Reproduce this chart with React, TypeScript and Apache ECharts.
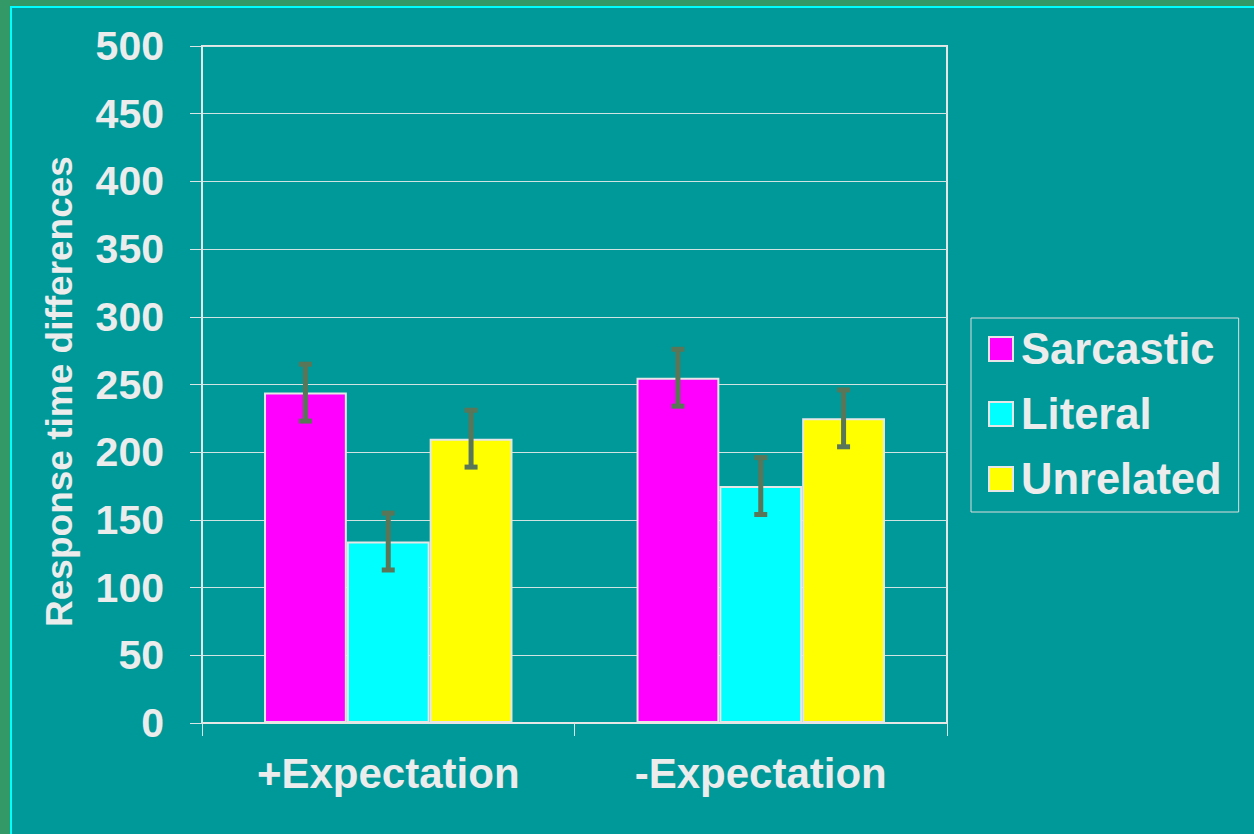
import React, { useEffect, useRef } from "react";
import * as echarts from "echarts";

const categories = ["+Expectation", "-Expectation"];
const seriesNames = ["Sarcastic", "Literal", "Unrelated"];
const sarcastic = [244, 255];
const literal = [134, 175];
const unrelated = [210, 225];
const errSarcastic = [21, 21];
const errLiteral = [21, 21];
const errUnrelated = [21, 21];
const yTicks = [0, 50, 100, 150, 200, 250, 300, 350, 400, 450, 500];

const colors = ["#FF00FF", "#00FFFF", "#FFFF00"];
const textColor = "#ececec";
const font = "'Liberation Sans', Arial, sans-serif";
const CAT_GAP = 0.333;

export default function App() {
  const ref = useRef<HTMLDivElement>(null);
  useEffect(() => {
    if (!ref.current) return;
    const chart = echarts.init(ref.current, null, { renderer: "svg" });
    const values = [sarcastic, literal, unrelated];
    const errs = [errSarcastic, errLiteral, errUnrelated];

    const barSeries = seriesNames.map((name, i) => ({
      name,
      type: "bar",
      data: values[i],
      barGap: "0%",
      barCategoryGap: "33.3%",
      itemStyle: { color: colors[i], borderColor: "#e6e6e6", borderWidth: 2 },
      z: 2,
    }));

    const errSeries = seriesNames.map((name, i) => ({
      name: name + " error",
      type: "custom",
      z: 5,
      encode: { x: 0, y: [1, 2] },
      data: values[i].map((v, k) => [k, v - errs[i][k], v + errs[i][k]]),
      renderItem: (params: any, api: any) => {
        const x = api.value(0);
        const lo = api.coord([x, api.value(1)]);
        const hi = api.coord([x, api.value(2)]);
        const band = api.size([1, 0])[0];
        const bw = (band * (1 - CAT_GAP)) / 3;
        const cx = lo[0] + (i - 1) * bw;
        const c = "#5A7658";
        return {
          type: "group",
          children: [
            { type: "rect", shape: { x: cx - 2.5, y: hi[1], width: 5, height: lo[1] - hi[1] }, style: { fill: c } },
            { type: "rect", shape: { x: cx - 6.5, y: hi[1] - 2.5, width: 13, height: 5 }, style: { fill: c } },
            { type: "rect", shape: { x: cx - 6.5, y: lo[1] - 2.5, width: 13, height: 5 }, style: { fill: c } },
          ],
        };
      },
    }));

    chart.setOption({
      animation: false,
      backgroundColor: "transparent",
      grid: {
        left: 202,
        top: 46,
        right: 307,
        bottom: 111,
        show: true,
        borderColor: "#e6e6e6",
        borderWidth: 2,
        backgroundColor: "transparent",
      },
      legend: {
        data: seriesNames,
        orient: "vertical",
        left: 971,
        top: 318,
        padding: [7, 17, 9, 17],
        itemWidth: 24,
        itemHeight: 24,
        itemGap: 17,
        borderColor: "#dddddd",
        borderWidth: 1,
        icon: "rect",
        itemStyle: { borderColor: "#e6e6e6", borderWidth: 2 },
        textStyle: {
          color: textColor,
          fontSize: 43.5,
          fontWeight: "bold",
          fontFamily: font,
          lineHeight: 48,
          padding: [0, 0, 0, 3],
        },
      },
      xAxis: {
        type: "category",
        data: categories,
        axisLine: { lineStyle: { color: "#e6e6e6", width: 2 } },
        axisTick: { show: true, length: 13, lineStyle: { color: "#d8e6e6", width: 1 } },
        axisLabel: {
          color: textColor,
          fontSize: 42,
          fontWeight: "bold",
          fontFamily: font,
          margin: 29,
        },
      },
      yAxis: {
        type: "value",
        min: yTicks[0],
        max: yTicks[yTicks.length - 1],
        interval: yTicks[1] - yTicks[0],
        name: "Response time differences",
        nameLocation: "middle",
        nameRotate: 90,
        nameGap: 124,
        nameTextStyle: {
          color: textColor,
          fontSize: 37,
          fontWeight: "bold",
          fontFamily: font,
          padding: [0, 14, 0, 0],
        },
        axisLine: { show: true, lineStyle: { color: "#e6e6e6", width: 2 } },
        axisTick: { show: true, length: 12, lineStyle: { color: "#d8e6e6", width: 1 } },
        splitLine: { show: true, lineStyle: { color: "#d0e4e4", width: 1 } },
        axisLabel: {
          color: textColor,
          fontSize: 41,
          fontWeight: "bold",
          fontFamily: font,
          margin: 38,
        },
      },
      series: [...barSeries, ...errSeries],
    });
    return () => chart.dispose();
  }, []);

  return (
    <div style={{ position: "fixed", left: 0, top: 0, width: 1254, height: 834, background: "#339966", overflow: "hidden" }}>
      <div
        style={{
          position: "absolute",
          left: 10,
          top: 6,
          right: 0,
          bottom: 0,
          background: "#009999",
          borderLeft: "2px solid #00FFFF",
          borderTop: "2px solid #00FFFF",
        }}
      />
      <div ref={ref} style={{ position: "absolute", left: 0, top: 0, width: 1254, height: 834 }} />
    </div>
  );
}
